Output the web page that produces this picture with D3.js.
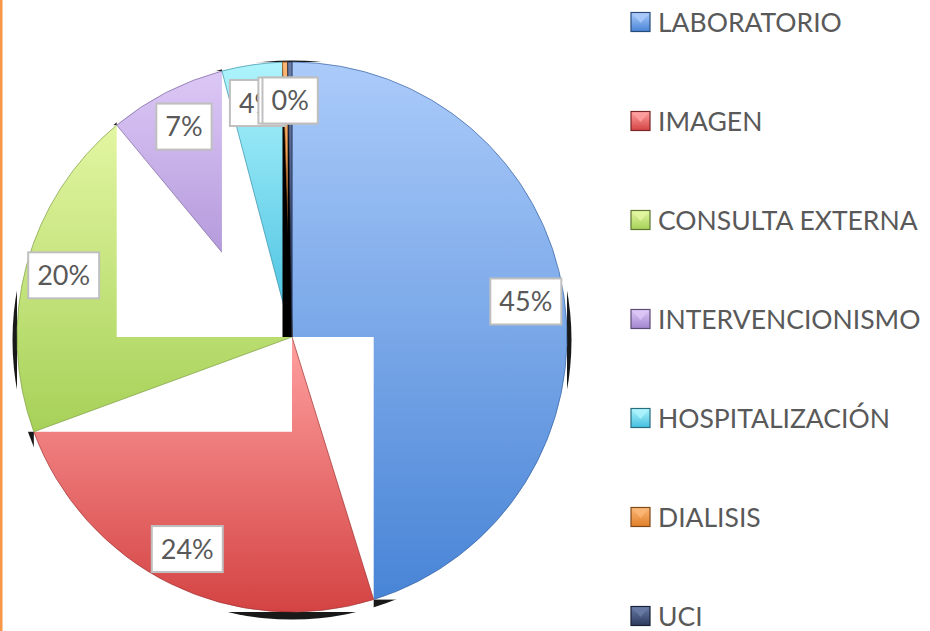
<!DOCTYPE html>
<html><head><meta charset="utf-8">
<script src="https://cdn.jsdelivr.net/npm/d3@7"></script>
<style>body{margin:0;background:#fff;} svg{display:block;}</style>
</head><body>
<svg id="chart" width="930" height="631"></svg>
<script>
// ---- data ----
const categories = ["LABORATORIO","IMAGEN","CONSULTA EXTERNA","INTERVENCIONISMO","HOSPITALIZACIÓN","DIALISIS","UCI"];
const values = [45.2, 24.2, 19.6, 6.9, 3.55, 0.3, 0.25];
// ---- palette ----
const topColors = ["#abcbfa","#ffa0a0","#e3f6a2","#dcc8f6","#aef4fc","#fbb777","#6a7ca6"];
const bottomColors = ["#4884d6","#d44343","#a6d158","#a285cf","#45bfe0","#e07f2a","#2c3a5e"];

const W = 930, H = 631, cx = 292, cy = 337, R = 275;
const svg = d3.select("#chart");
const defs = svg.append("defs");
const data = categories.map((c, i) => ({c, v: values[i], i}));
const total = d3.sum(values);

categories.forEach((c, i) => {
  const lg = defs.append("linearGradient").attr("id", "g" + i)
    .attr("x1", 0).attr("y1", 0).attr("x2", 0).attr("y2", 1);
  lg.append("stop").attr("offset", "0%").attr("stop-color", topColors[i]);
  lg.append("stop").attr("offset", "100%").attr("stop-color", bottomColors[i]);
});

// orange frame edge
svg.append("rect").attr("x", 0).attr("y", 0).attr("width", 2.5).attr("height", H).attr("fill", "#f79646");

const pie = d3.pie().sort(null).value(d => d.v).startAngle(0).endAngle(2 * Math.PI);
const arcs = pie(data);
const arc = d3.arc().innerRadius(0).outerRadius(R);
const g = svg.append("g").attr("transform", `translate(${cx},${cy})`);

// shadow
g.append("circle").attr("cx", 0).attr("cy", 3).attr("r", R + 4.5).attr("fill", "#000").attr("opacity", 0.9);

arcs.forEach(a => {
  const p = g.append("path").attr("d", arc(a))
    .attr("fill", `url(#g${a.data.i})`)
    .attr("stroke", d3.color(bottomColors[a.data.i]).darker(0.8))
    .attr("stroke-width", 1).attr("stroke-opacity", 0.7);
  const b = p.node().getBBox();
  const tiny = a.data.v / total < 0.01;
  g.insert("rect", () => p.node())
    .attr("x", b.x).attr("y", b.y).attr("width", b.width).attr("height", b.height)
    .attr("fill", tiny ? "#000" : "#fff");
});

// data labels
const labelArc = d3.arc().innerRadius(R * 0.86).outerRadius(R * 0.86);
const fmt = d3.format(".0%");
arcs.forEach(a => {
  const [x, y] = labelArc.centroid(a);
  const lg = g.append("g").attr("transform", `translate(${x},${y})`);
  const rect = lg.append("rect");
  const t = lg.append("text").attr("text-anchor", "middle").attr("dy", "0.36em")
    .attr("font-family", "Lato, 'Open Sans', sans-serif").attr("font-size", 27)
    .attr("fill", "#595959").text(fmt(a.data.v / total));
  const w = t.node().getComputedTextLength() + 18, h = 46;
  rect.attr("x", -w / 2).attr("y", -h / 2).attr("width", w).attr("height", h)
    .attr("fill", "#fff").attr("stroke", "#bfbfbf").attr("stroke-width", 2);
});

// legend
const ly = d3.scalePoint().domain(categories).range([22, 616]);
const leg = svg.append("g");
categories.forEach((c, i) => {
  const y = ly(c), s = 19, x = 631;
  const row = leg.append("g").attr("transform", `translate(${x},${y - s / 2})`);
  row.append("rect").attr("width", s).attr("height", s).attr("fill", `url(#g${i})`)
    .attr("stroke", d3.color(bottomColors[i]).darker(1.6)).attr("stroke-width", 1.2);
  row.append("path").attr("d", `M1,1L${s - 1},1L${s / 2},${s * 0.55}Z`)
    .attr("fill", topColors[i]).attr("opacity", 0.8);
  leg.append("text").attr("x", 658).attr("y", y).attr("dy", "0.36em")
    .attr("font-family", "Lato, 'Open Sans', sans-serif").attr("font-size", 26.5)
    .attr("fill", "#595959").text(c);
});
</script>
</body></html>
